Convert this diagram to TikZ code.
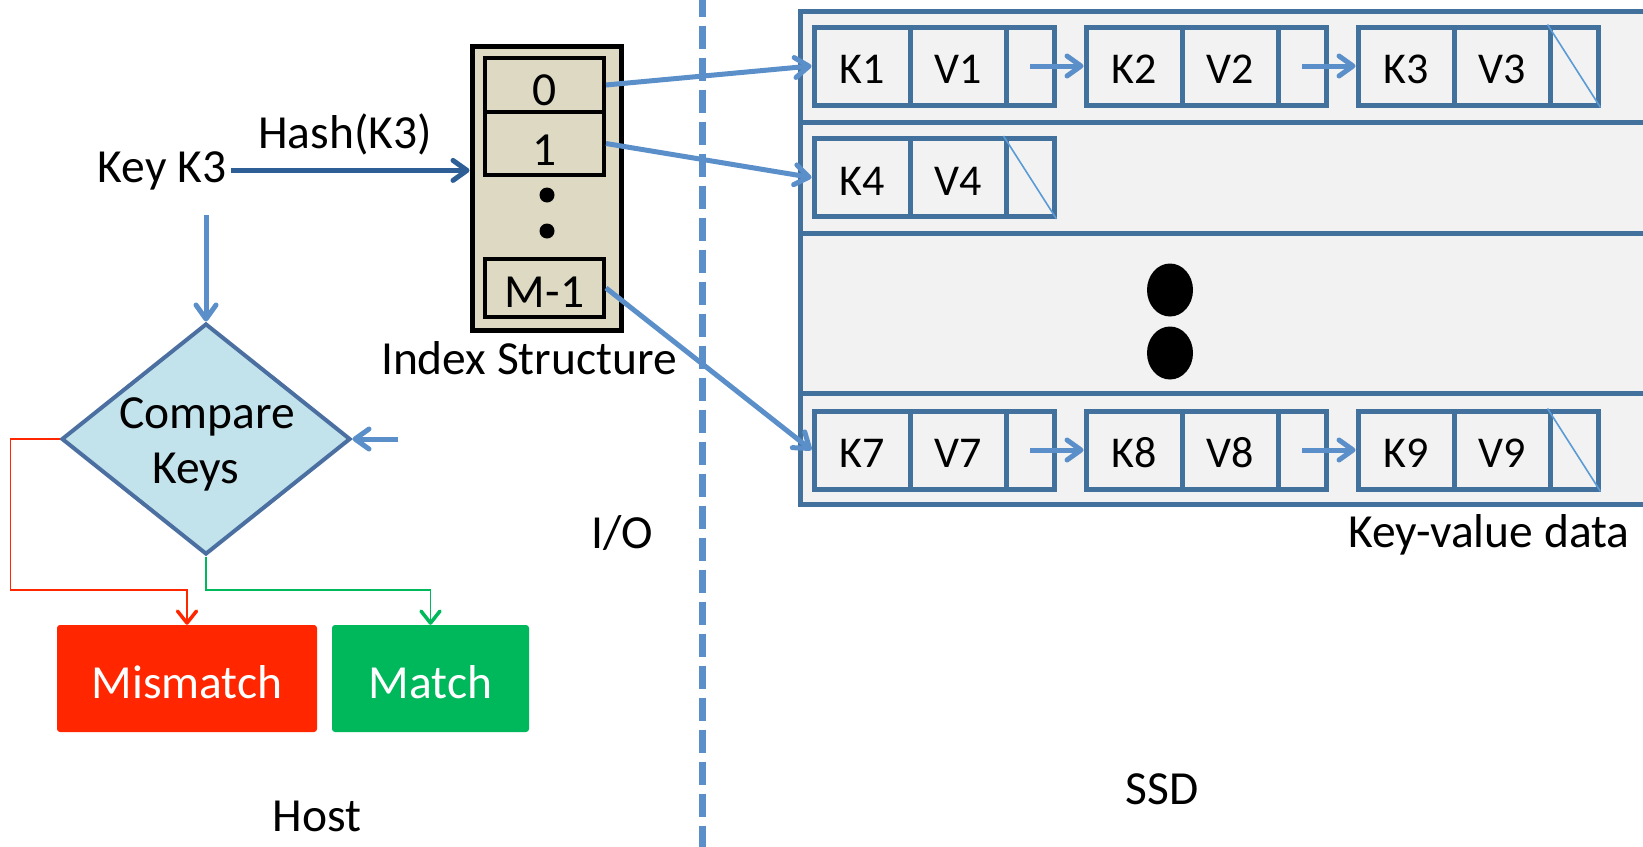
\documentclass[tikz,border=0pt]{standalone}
\usepackage{fontspec}
\setmainfont{Carlito}
\usetikzlibrary{arrows.meta,shapes.geometric}

\definecolor{cellline}{HTML}{41719C}
\definecolor{cellfill}{HTML}{F2F2F2}
\definecolor{linkblue}{HTML}{5B8FC9}
\definecolor{hashblue}{HTML}{2D5F96}
\definecolor{nullblue}{HTML}{5B9BD5}
\definecolor{idxfill}{HTML}{DDD9C3}
\definecolor{cmpfill}{HTML}{C3E3EC}
\definecolor{cmpline}{HTML}{4A6FA0}
\definecolor{missred}{HTML}{FF2600}
\definecolor{hitgreen}{HTML}{00B85C}

\begin{document}
\begin{tikzpicture}[x=1pt,y=-1pt,
  lbl/.style={font=\fontsize{47.5}{55}\selectfont, inner sep=0pt},
  cell/.style={draw=cellline, fill=cellfill, line width=5pt, minimum height=78pt,
    inner sep=0pt, text height=35pt, text depth=0pt, font=\fontsize{44}{46}\selectfont},
  kcell/.style={cell, minimum width=96pt},
  pcell/.style={cell, minimum width=48pt},
  icell/.style={draw=black, fill=idxfill, line width=4pt, minimum width=119pt,
    inner sep=0pt, text depth=0pt, font=\fontsize{47.5}{50}\selectfont},
  link/.style={draw=linkblue, line width=5pt,
    -{Straight Barb[length=14pt,width=20pt,round]}},
  hasharrow/.style={draw=hashblue, line width=5pt,
    -{Straight Barb[length=14pt,width=20pt,round]}},
  nullmark/.style={draw=nullblue, line width=1.6pt},
  branch/.style={line width=1.8pt,
    -{Straight Barb[length=12pt,width=19pt,line width=3.5pt,round]}},
  result/.style={rounded corners=3pt, inner sep=0pt, minimum height=107pt,
    text height=39pt, text depth=0pt, text=white, font=\fontsize{47.5}{50}\selectfont},
  separator/.style={draw=linkblue, line width=7pt, dash pattern=on 23.5pt off 8.5pt}
]
\useasboundingbox (0,0) rectangle (1643,846);
\clip (0,0) rectangle (1643,846);

% host / SSD boundary
\draw[separator] (702,-6.5) -- (702,860);

% ---------------- SSD side: key-value data area ----------------
\draw[draw=cellline, fill=cellfill, line width=5pt] (800,11) rectangle (1680,504);
\draw[draw=cellline, line width=5pt] (800,122) -- (1680,122);
\draw[draw=cellline, line width=5pt] (800,233) -- (1680,233);
\draw[draw=cellline, line width=5pt] (800,393) -- (1680,393);

% bucket 0: K1 -> K2 -> K3
\node[kcell] (k1) at (862,66) {K1};
\node[kcell] (v1) at (958,66) {V1};
\node[pcell] (p1) at (1030,66) {};
\node[kcell] (k2) at (1134,66) {K2};
\node[kcell] (v2) at (1230,66) {V2};
\node[pcell] (p2) at (1302,66) {};
\node[kcell] (k3) at (1406,66) {K3};
\node[kcell] (v3) at (1502,66) {V3};
\node[pcell] (p3) at (1574,66) {};

% bucket 1: K4
\node[kcell] (k4) at (862,177.5) {K4};
\node[kcell] (v4) at (958,177.5) {V4};
\node[pcell] (p4) at (1030,177.5) {};

% bucket M-1: K7 -> K8 -> K9
\node[kcell] (k7) at (862,450) {K7};
\node[kcell] (v7) at (958,450) {V7};
\node[pcell] (p7) at (1030,450) {};
\node[kcell] (k8) at (1134,450) {K8};
\node[kcell] (v8) at (1230,450) {V8};
\node[pcell] (p8) at (1302,450) {};
\node[kcell] (k9) at (1406,450) {K9};
\node[kcell] (v9) at (1502,450) {V9};
\node[pcell] (p9) at (1574,450) {};

% null pointers
\draw[nullmark] (p3.north west) -- (p3.south east);
\draw[nullmark] (p4.north west) -- (p4.south east);
\draw[nullmark] (p9.north west) -- (p9.south east);

% chain links
\draw[link] (p1.center) -- (k2.west);
\draw[link] (p2.center) -- (k3.west);
\draw[link] (p7.center) -- (k8.west);
\draw[link] (p8.center) -- (k9.west);

% elided buckets
\fill (1170,290) ellipse [x radius=23, y radius=26.5];
\fill (1170,353) ellipse [x radius=23, y radius=26.5];

\node[lbl, anchor=base] (kvlbl) at (1489,547) {Key-value data};
\node[lbl, anchor=base] (ssdlbl) at (1162,804) {SSD};

% ---------------- Index structure ----------------
\node[draw=black, fill=idxfill, line width=5pt, minimum width=149pt,
  minimum height=284pt, inner sep=0pt] (idx) at (546.5,188) {};
\node[icell, minimum height=54pt, text height=40pt] (i0) at (544.5,85) {0};
\node[icell, minimum height=63pt, text height=43pt] (i1) at (544.5,143.5) {1};
\node[icell, minimum height=58pt, text height=38pt] (im) at (544.5,288) {M-1};
\fill (547,195) circle [radius=7.5];
\fill (547,231) circle [radius=7.5];
\node[lbl, anchor=base] (idxlbl) at (529,374) {Index Structure};

\draw[link] (i0.east) -- (k1.west);
\draw[link] (i1.east) -- (k4.west);
\draw[link] (im.east) -- (k7.west);

\node[lbl, anchor=base] (iolbl) at (622,548) {I/O};

% ---------------- Host side ----------------
\node[lbl, anchor=base] (key) at (162,182) {Key K3};
\node[lbl, anchor=base] (hashlbl) at (345,148) {Hash(K3)};
\draw[hasharrow, shorten <=5pt] (key.east) -- (key.east -| idx.west);

\node[diamond, draw=cmpline, fill=cmpfill, line width=4pt, minimum width=289pt,
  minimum height=231pt, inner sep=0pt] (cmp) at (206,439) {};
\node[lbl, anchor=base] (cmptop) at (207,428) {Compare};
\node[lbl, anchor=base] (cmpbot) at (196,483) {Keys};

\coordinate (keydrop) at (206,215);
\draw[link] (keydrop) -- (cmp.north);
\coordinate (recheck) at (398,439);
\draw[link] (recheck) -- (cmp.east);

\node[result, fill=missred, minimum width=260pt] (mism) at (187,678.5) {Mismatch};
\node[result, fill=hitgreen, minimum width=197pt] (match) at (430.5,678.5) {Match};

\draw[branch, draw=missred] (cmp.west) -- ++(-49,0) |- ([yshift=35pt]mism.north) -- (mism.north);
\draw[branch, draw=hitgreen] (cmp.south) |- ([yshift=35pt]match.north) -- (match.north);

\node[lbl, anchor=base] (hostlbl) at (317,831) {Host};
\end{tikzpicture}
\end{document}
